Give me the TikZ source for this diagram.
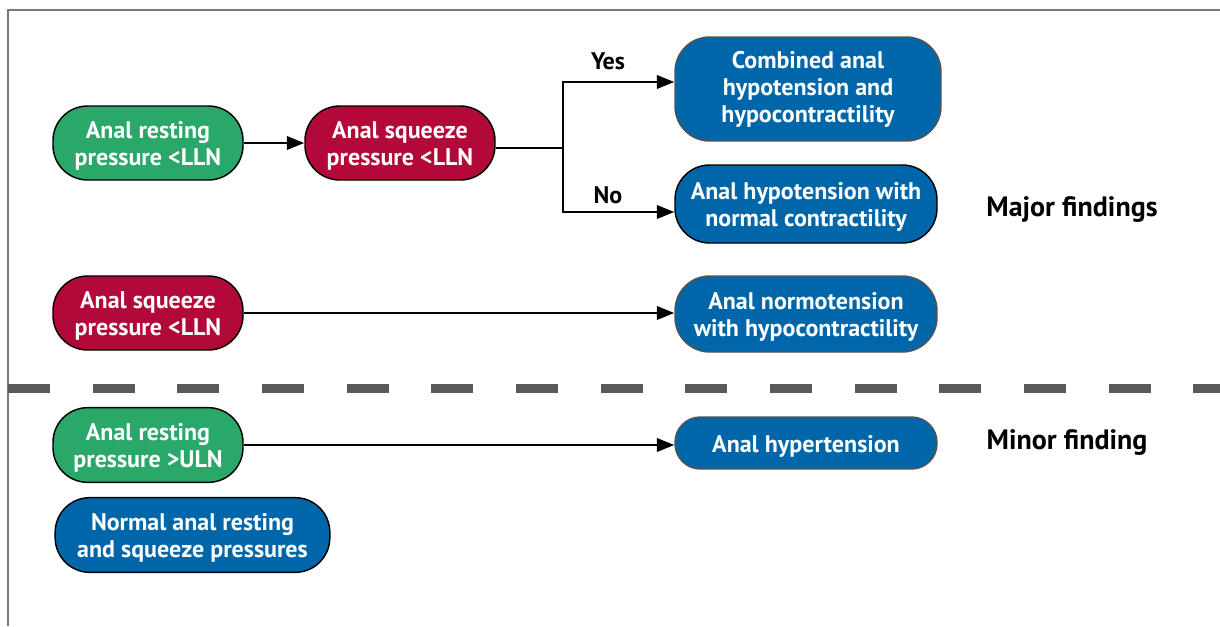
\documentclass[tikz,border=0pt]{standalone}
\usepackage{fontspec}
\setmainfont{PT Sans}
\usetikzlibrary{arrows.meta}
\definecolor{ngreen}{RGB}{42,168,106}
\definecolor{nred}{RGB}{178,9,56}
\definecolor{nblue}{RGB}{0,102,170}
\definecolor{dashgray}{RGB}{88,89,91}
\definecolor{framegray}{RGB}{120,120,120}
\newcommand\topstrut{\rule{0pt}{17.5pt}}
\tikzset{
  box/.style={draw=black, line width=1.1pt, rounded corners=26pt, text=white,
    font=\fontsize{18}{20.3}\selectfont\bfseries, align=center, inner sep=0pt},
  gbox/.style={box, fill=ngreen},
  rbox/.style={box, fill=nred},
  bbox/.style={box, fill=nblue},
  conn/.style={line width=1.8pt, draw=black},
  arr/.style={conn, -{Triangle[length=13pt,width=10pt]}},
  lbl/.style={font=\fontsize{18}{20}\selectfont\bfseries, text=black, inner sep=0pt},
  side/.style={font=\fontsize{21}{24}\selectfont\bfseries, text=black, inner sep=0pt}
}
\begin{document}
\begin{tikzpicture}[x=0.75pt,y=-0.75pt]
\useasboundingbox (0,0) rectangle (1220,626);
% frame
\draw[framegray, line width=1.1pt] (1220,10) -- (8,10) -- (8,626);
% dashed divider
\draw[dashgray, line width=6.75pt, dash pattern=on 31.5pt off 32pt] (8,388) -- (1220,388);
% nodes
\node[gbox, minimum width=142.5pt, minimum height=55.5pt] (n1) at (148,143) {\topstrut Anal resting\\pressure <LLN};
\node[rbox, minimum width=142.5pt, minimum height=55.5pt] (n2) at (400,143) {\topstrut Anal squeeze\\pressure <LLN};
\node[bbox, draw=framegray!70!black, minimum width=199.5pt, minimum height=78pt] (n3) at (808,89) {Combined anal\\hypotension and\\hypocontractility};
\node[bbox, minimum width=196.5pt, minimum height=58.5pt] (n4) at (806,204) {\topstrut Anal hypotension with\\normal contractility};
\node[rbox, minimum width=142.5pt, minimum height=55.5pt] (n5) at (148,313) {\topstrut Anal squeeze\\pressure <LLN};
\node[bbox, draw=framegray!70!black, minimum width=196.5pt, minimum height=57pt] (n6) at (806,314) {\topstrut Anal normotension\\with hypocontractility};
\node[gbox, minimum width=142.5pt, minimum height=56pt] (n7) at (148,445) {\topstrut Anal resting\\pressure >ULN};
\node[bbox, draw=framegray!70!black, rounded corners=19pt, minimum width=196.5pt, minimum height=39pt] (n8) at (806,443) {\topstrut Anal hypertension};
\node[bbox, minimum width=206pt, minimum height=56pt] (n9) at (192.5,535) {\topstrut Normal anal resting\\and squeeze pressures};
% side labels
\node[side] (maj) at (1072,210) {Major findings};
\node[side] (min) at (1067,443) {Minor finding};
% branch labels
\node[lbl] (yes) at (608,61) {Yes};
\node[lbl] (no) at (608,195) {No};
% connectors
\draw[arr] (n1) -- (n2);
\coordinate (j) at (563,148);
\draw[conn] ([yshift=-3.75pt]n2.east) -- (j);
\draw[arr] (j) |- ([yshift=5.25pt]n3.west);
\draw[arr] (j) |- ([yshift=-6pt]n4.west);
\draw[arr] (n5.east) -- (n6.west |- n5.east);
\draw[arr] (n7.east) -- (n8.west |- n7.east);
\end{tikzpicture}
\end{document}
